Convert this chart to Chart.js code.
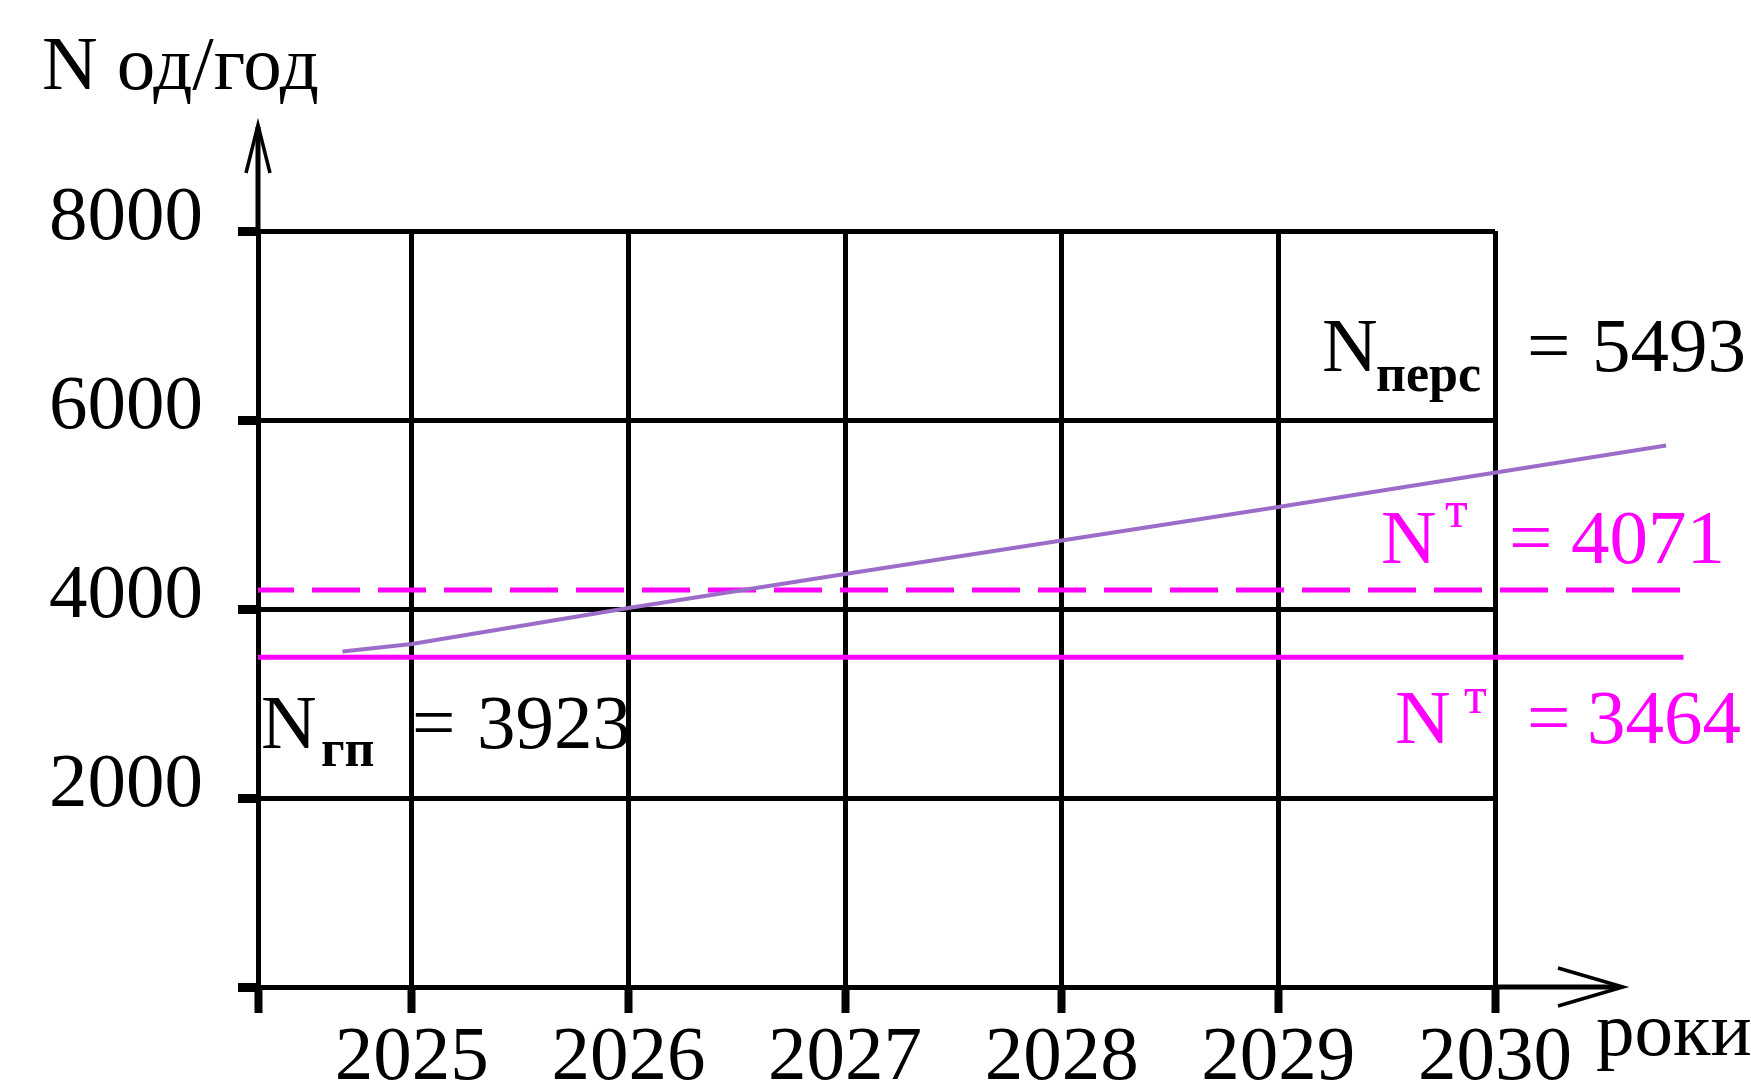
<!DOCTYPE html>
<html>
<head>
<meta charset="utf-8">
<script src="https://cdn.jsdelivr.net/npm/chart.js@4.4.0/dist/chart.umd.min.js"></script>
<style>
  html, body { margin: 0; padding: 0; background: #fff; overflow: hidden; }
  canvas { display: block; }
</style>
</head>
<body>
<canvas id="chart" width="1751" height="1089"></canvas>
<script>
// Вісь X: початок осі та підписані роки
const axisStart = 2024.29;
const axisEnd = 2030;
const yearTicks = [2025, 2026, 2027, 2028, 2029, 2030];

// Вісь Y: поділки
const yTicks = [0, 2000, 4000, 6000, 8000];

// N перс по роках (лінія виходить за 2030)
const persYears = [2024.68, 2025, 2026, 2027, 2028, 2029, 2030.79];
const persValues = [3550, 3630, 4010, 4370, 4725, 5080, 5730];

// Горизонтальні рівні N т
const levelYears = [2024.29, 2030.87];
const ntUpper = [4200, 4200];
const ntLower = [3490, 3490];

const serif = '"Liberation Serif", "DejaVu Serif", serif';
const black = '#000000';
const magenta = '#ff00ff';

// стрілки на осях (продовження осей за межі сітки)
const axisArrows = {
  id: 'axisArrows',
  afterDraw(chart) {
    const ctx = chart.ctx;
    const { left, top, right, bottom } = chart.chartArea;
    ctx.save();
    ctx.strokeStyle = black;
    ctx.lineCap = 'butt';
    ctx.lineWidth = 5;
    ctx.beginPath();
    ctx.moveTo(left, top);
    ctx.lineTo(left, top - 104);
    ctx.moveTo(right, bottom);
    ctx.lineTo(right + 124, bottom);
    ctx.stroke();

    ctx.lineWidth = 3.5;
    ctx.beginPath();
    ctx.moveTo(left - 12, top - 58);
    ctx.lineTo(left, top - 106);
    ctx.lineTo(left + 12, top - 58);
    ctx.moveTo(right + 63, bottom - 19);
    ctx.lineTo(right + 128, bottom);
    ctx.lineTo(right + 63, bottom + 19);
    ctx.stroke();
    ctx.restore();
  }
};

// підписи на полі рисунка
const textNotes = {
  id: 'textNotes',
  afterDraw(chart) {
    const ctx = chart.ctx;
    ctx.save();
    ctx.textBaseline = 'alphabetic';
    ctx.textAlign = 'left';
    const put = (txt, x, y, size, color, bold) => {
      ctx.font = (bold ? 'bold ' : '') + size + 'px ' + serif;
      ctx.fillStyle = color;
      ctx.fillText(txt, x, y);
    };

    // назва осі Y
    put('N од/год', 42, 89, 77, black);

    // N перс
    put('N', 1322, 371, 77, black);
    put('перс', 1376, 391, 52, black, true);
    put('=', 1527, 371, 77, black);
    put('5493', 1592, 371, 77, black);

    // N т (верхній)
    put('N', 1381, 563, 77, magenta);
    put('т', 1445, 527, 52, magenta);
    put('=', 1509, 563, 77, magenta);
    put('4071', 1571, 563, 77, magenta);

    // N т (нижній)
    put('N', 1395, 743, 77, magenta);
    put('т', 1464, 713, 52, magenta);
    put('=', 1527, 743, 77, magenta);
    put('3464', 1587, 743, 77, magenta);

    // N гп
    put('N', 261, 748, 77, black);
    put('гп', 321, 766, 52, black, true);
    put('=', 412, 748, 77, black);
    put('3923', 477, 748, 77, black);

    // назва осі X
    put('роки', 1596, 1055, 77, black);
    ctx.restore();
  }
};

const toPoints = (xs, ys) => xs.map((x, i) => ({ x: x, y: ys[i] }));

const chart = new Chart(document.getElementById('chart'), {
  type: 'line',
  data: {
    datasets: [
      {
        label: 'N перс',
        data: toPoints(persYears, persValues),
        borderColor: '#9b6dc9',
        borderWidth: 4,
        pointRadius: 0,
        tension: 0,
        clip: false
      },
      {
        label: 'N т = 4071',
        data: toPoints(levelYears, ntUpper),
        borderColor: magenta,
        borderWidth: 5,
        borderDash: [48, 18],
        borderDashOffset: 12,
        pointRadius: 0,
        tension: 0,
        clip: false
      },
      {
        label: 'N т = 3464',
        data: toPoints(levelYears, ntLower),
        borderColor: magenta,
        borderWidth: 5,
        pointRadius: 0,
        tension: 0,
        clip: false
      }
    ]
  },
  options: {
    responsive: false,
    animation: false,
    layout: { padding: { top: 231, right: 256, left: 0, bottom: 0 } },
    plugins: {
      legend: { display: false },
      tooltip: { enabled: false }
    },
    scales: {
      x: {
        type: 'linear',
        min: axisStart,
        max: axisEnd,
        afterBuildTicks: (s) => { s.ticks = [axisStart].concat(yearTicks).map(v => ({ value: v })); },
        afterFit: (s) => { s.height = 102; },
        border: { display: false },
        grid: { color: black, lineWidth: 5, tickLength: 26, tickWidth: 8, tickColor: black },
        ticks: {
          autoSkip: false,
          maxRotation: 0,
          padding: 7,
          color: black,
          font: { family: serif, size: 77, lineHeight: 1 },
          callback: (v) => yearTicks.includes(v) ? String(v) : ''
        }
      },
      y: {
        min: 0,
        max: 8000,
        afterBuildTicks: (s) => { s.ticks = yTicks.map(v => ({ value: v })); },
        afterFit: (s) => { s.width = 258; },
        border: { display: false },
        grid: { color: black, lineWidth: 5, tickLength: 20, tickWidth: 9, tickColor: black },
        ticks: {
          padding: 35,
          color: black,
          font: { family: serif, size: 77, lineHeight: 0.33 },
          // другий порожній рядок піднімає підпис над лінією
          callback: (v) => v === 0 ? '' : [String(v), '']
        }
      }
    }
  },
  plugins: [axisArrows, textNotes]
});
</script>
</body>
</html>
